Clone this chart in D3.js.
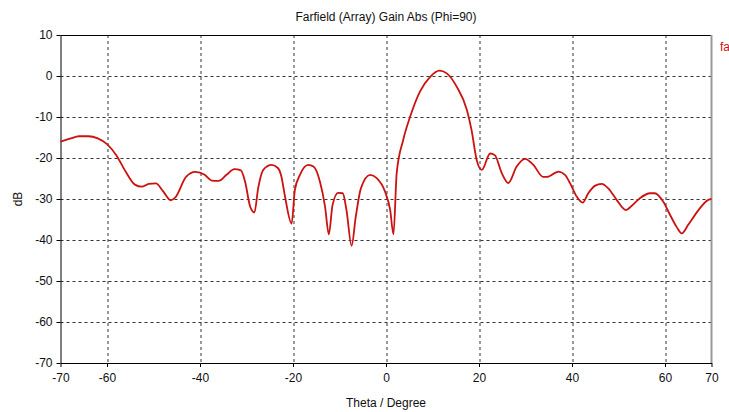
<!DOCTYPE html>
<meta charset="utf-8">
<style>
body { margin: 0; background: #fff; }
svg { display: block; font-family: "Liberation Sans", Arial, sans-serif; }
.grid line { stroke: #333; stroke-width: 1; stroke-dasharray: 3,3; }
.axis path, .axis line { stroke: #000; }
.axis text { font-size: 12px; fill: #111; }
.line { fill: none; stroke: #cc1111; stroke-width: 1.8px; }
</style>
<body>
<svg width="729" height="412"></svg>
<script src="https://cdn.jsdelivr.net/npm/d3@7"></script>
<script>

// theta (deg) and gain (dB)
var theta = [-70, -68, -66, -64, -62, -60, -58, -56, -54, -52.5, -51, -49.5, -48, -46.3, -45.3,
  -43, -41, -39, -37.5, -36, -34.3, -32.6, -31.2, -30.3, -29.2, -28.3, -27.5, -26.4, -24.6,
  -23.2, -22.5, -21.7, -20.3, -19.6, -18.5, -16.7, -15.6, -14.2, -13.1, -12.3, -11.5, -10.3,
  -9.3, -8.5, -7.4, -6.5, -5.4, -3.4, -2.0, -0.2, 0.9, 1.6, 2.3, 3.7, 5.2, 7.3, 9.5, 11.5,
  13.0, 15.2, 17.4, 18.4, 19.5, 20.6, 22.4, 23.4, 24.9, 26.3, 28.1, 29.9, 31.7, 33.8, 34.6,
  37.1, 38.5, 39.6, 41.0, 42.3, 43.5, 44.9, 46.4, 47.8, 49.6, 51.6, 52.8, 54.6, 56.8, 57.8,
  59.6, 61.1, 62.5, 63.6, 65.0, 67.2, 69.3, 70];
var gain = [-16.0, -15.3, -14.7, -14.7, -15.2, -16.6, -19.3, -23.3, -26.5, -27.0, -26.3, -26.2,
  -28.0, -30.3, -29.6, -24.6, -23.4, -24.1, -25.5, -25.6, -24.1, -22.7, -23.0, -25.8, -31.9,
  -33.3, -27.4, -22.9, -21.7, -22.5, -24.5, -29.5, -36.0, -27.8, -24.1, -21.7, -22.1, -25.8,
  -31.9, -38.6, -31.5, -28.5, -28.6, -32.7, -41.4, -34.3, -27.4, -24.1, -24.9, -28.2, -32.7,
  -38.6, -23.7, -15.6, -9.9, -3.8, -0.2, 1.3, 0.7, -2.6, -8.3, -13.2, -20.5, -22.9, -18.9,
  -19.3, -23.7, -26.1, -22.1, -20.2, -21.7, -24.6, -24.6, -23.3, -24.1, -26.2, -29.4, -30.9,
  -28.6, -26.8, -26.3, -27.4, -30.2, -32.7, -31.7, -29.8, -28.6, -28.6, -30.6, -33.9, -36.8,
  -38.4, -36.3, -32.7, -30.2, -30.0];

var xTicks = [-70, -60, -40, -20, 0, 20, 40, 60, 70];
var yTicks = [10, 0, -10, -20, -30, -40, -50, -60, -70];
var xGrid = [-60, -40, -20, 0, 20, 40, 60];
var yGrid = [0, -10, -20, -30, -40, -50, -60];

var svg = d3.select("svg"),
    margin = {top: 35, right: 17.5, bottom: 49, left: 60.5},
    width = svg.attr("width") - margin.left - margin.right,
    height = svg.attr("height") - margin.top - margin.bottom,
    g = svg.append("g").attr("transform", "translate(" + margin.left + "," + margin.top + ")");

var x = d3.scaleLinear().domain([-70, 70]).range([0, width]),
    y = d3.scaleLinear().domain([-70, 10]).range([height, 0]);

var data = theta.map(function(t, i) { return {t: t, v: gain[i]}; });

// grid
g.append("g").attr("class", "grid")
  .selectAll("line").data(xGrid).enter().append("line")
    .attr("x1", function(d) { return Math.round(x(d)) + 0.5; })
    .attr("x2", function(d) { return Math.round(x(d)) + 0.5; })
    .attr("y1", 0).attr("y2", height);
g.append("g").attr("class", "grid")
  .selectAll("line").data(yGrid).enter().append("line")
    .attr("y1", function(d) { return Math.round(y(d)) + 0.5; })
    .attr("y2", function(d) { return Math.round(y(d)) + 0.5; })
    .attr("x1", 0).attr("x2", width);

// frame: top black, right gray
g.append("line").attr("x1", 0).attr("x2", width).attr("y1", 0.5).attr("y2", 0.5)
  .attr("stroke", "#000");
g.append("line").attr("x1", width).attr("x2", width).attr("y1", 0).attr("y2", height)
  .attr("stroke", "#999").attr("stroke-width", 2);

g.append("g")
    .attr("class", "axis axis--x")
    .attr("transform", "translate(0," + height + ")")
    .call(d3.axisBottom(x).tickValues(xTicks).tickSize(4).tickSizeOuter(0).tickPadding(6)
      .tickFormat(d3.format("d")));

g.append("g")
    .attr("class", "axis axis--y")
    .call(d3.axisLeft(y).tickValues(yTicks).tickSize(4).tickSizeOuter(0).tickPadding(4)
      .tickFormat(d3.format("d")));

// plain hyphen for minus, as in the reference
g.selectAll(".axis text").text(function(d) { return String(d); });

var line = d3.line()
    .curve(d3.curveMonotoneX)
    .x(function(d) { return x(d.t); })
    .y(function(d) { return y(d.v); });

g.append("path").datum(data).attr("class", "line").attr("d", line);

// titles
svg.append("text")
    .attr("x", 386).attr("y", 21)
    .attr("text-anchor", "middle")
    .style("font-size", "12px").attr("fill", "#111")
    .text("Farfield (Array) Gain Abs (Phi=90)");

svg.append("text")
    .attr("x", 386).attr("y", 407)
    .attr("text-anchor", "middle")
    .style("font-size", "12px").attr("fill", "#111")
    .text("Theta / Degree");

svg.append("text")
    .attr("transform", "translate(22,199) rotate(-90)")
    .attr("text-anchor", "middle")
    .style("font-size", "12px").attr("fill", "#111")
    .text("dB");

// legend entry, only its start is visible in the reference
svg.append("text")
    .attr("x", 720).attr("y", 51)
    .style("font-size", "12px").attr("fill", "#cc1111")
    .text("fa");

</script>
</body>
